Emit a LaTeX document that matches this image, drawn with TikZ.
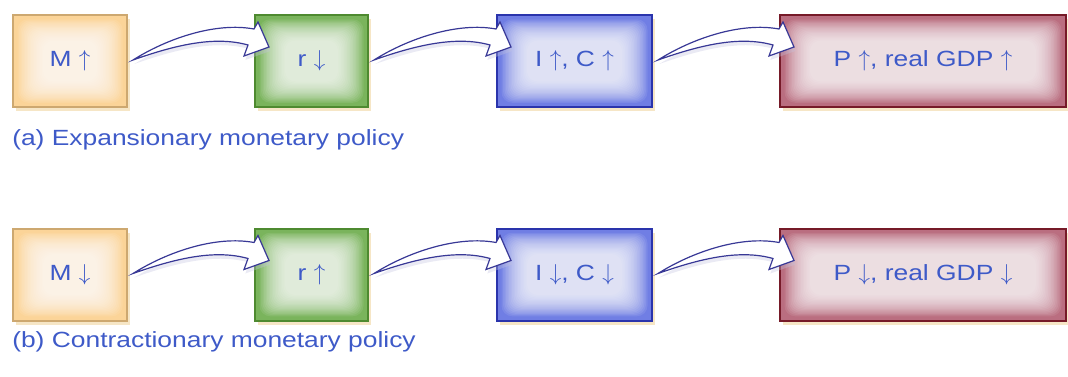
\documentclass[tikz,border=0pt]{standalone}
\usepackage{fontspec}
\newfontfamily\diagfont[FakeStretch=1.2]{Liberation Sans}
\usetikzlibrary{calc,shadows}

\definecolor{txtblue}{RGB}{62,90,200}
\definecolor{mborder}{RGB}{205,168,112}
\definecolor{mfill}{RGB}{251,212,152}
\definecolor{rborder}{RGB}{78,138,48}
\definecolor{rfill}{RGB}{122,180,92}
\definecolor{iborder}{RGB}{42,52,172}
\definecolor{ifill}{RGB}{112,126,228}
\definecolor{pborder}{RGB}{118,26,40}
\definecolor{pfill}{RGB}{186,110,128}
\definecolor{arrline}{RGB}{56,56,150}
\definecolor{shadowcol}{RGB}{236,200,128}

\tikzset{
  stage/.style={rectangle, line width=1.5pt, minimum height=69pt,
    text=txtblue, font=\diagfont\fontsize{16.5pt}{18pt}\selectfont,
    drop shadow={shadow xshift=2pt, shadow yshift=-3pt, fill=shadowcol, opacity=0.45},
    path picture={
      \foreach \k in {1,...,18}
        \fill[white, opacity=0.085, rounded corners=8pt]
          ($(path picture bounding box.south west)+(3+1.5*\k,3+1.25*\k)$) rectangle
          ($(path picture bounding box.north east)-(3+1.5*\k,3+1.25*\k)$);
    }},
  mstage/.style={stage, draw=mborder, fill=mfill, minimum width=85.5pt},
  rstage/.style={stage, draw=rborder, fill=rfill, minimum width=84.75pt},
  istage/.style={stage, draw=iborder, fill=ifill, minimum width=116.25pt},
  pstage/.style={stage, draw=pborder, fill=pfill, minimum width=214.5pt},
  caption/.style={text=txtblue, inner sep=0pt, anchor=base west,
    font=\diagfont\fontsize{16.5pt}{18pt}\selectfont},
  flowarrow/.style={draw=arrline, line width=0.9pt, fill=white,
    drop shadow={shadow xshift=1pt, shadow yshift=-3pt, fill=arrline!30, opacity=0.35}}
}

% curved hollow arrow from the east side of #1 into the top left of #2
\newcommand{\flow}[2]{%
  \draw[flowarrow] ($(#1.east)+(5,1)$) coordinate (tl)
    .. controls ($(tl)+(35,22)$) and ($(#2.west)+(-38,39)$) .. ($(#2.west)+(0,32)$)
    -- ($(#2.west)+(4,39)$) -- ($(#2.west)+(15,14)$) -- ($(#2.west)+(-10,5)$)
    -- ($(#2.west)+(-6,16)$)
    .. controls ($(#2.west)+(-38,25)$) and ($(tl)+(45,16)$) .. (tl) -- cycle;
}

\begin{document}
\begin{tikzpicture}[x=0.75pt, y=0.75pt]
  \useasboundingbox (0,0) rectangle (1068,376);

  % (a) expansionary
  \node[mstage] (ma) at (70,315) {M $\uparrow$};
  \node[rstage] (ra) at (311.5,315) {r $\downarrow$};
  \node[istage] (ia) at (574.5,315) {I $\uparrow$, C $\uparrow$};
  \node[pstage] (pa) at (923,315) {P $\uparrow$, real GDP $\uparrow$};
  \node[caption] (capa) at (12,231) {(a) Expansionary monetary policy};

  % (b) contractionary
  \node[mstage] (mb) at (70,101.5) {M $\downarrow$};
  \node[rstage] (rb) at (311.5,101.5) {r $\uparrow$};
  \node[istage] (ib) at (574.5,101.5) {I $\downarrow$, C $\downarrow$};
  \node[pstage] (pb) at (923,101.5) {P $\downarrow$, real GDP $\downarrow$};
  \node[caption] (capb) at (12,29) {(b) Contractionary monetary policy};

  \flow{ma}{ra}
  \flow{ra}{ia}
  \flow{ia}{pa}
  \flow{mb}{rb}
  \flow{rb}{ib}
  \flow{ib}{pb}
\end{tikzpicture}
\end{document}
